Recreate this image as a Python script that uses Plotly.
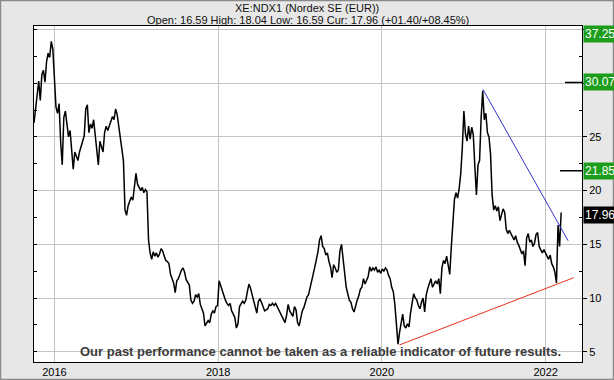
import pandas as pd
import plotly.graph_objects as go

# ---- data (weekly closes) ----
start_date = "2015-10-02"
prices = [
    26.3, 27.8, 28.6, 30.2, 28.4, 30.8, 31.2, 30.1, 32.0, 32.8,
    32.4, 33.9, 33.2, 30.0, 27.8, 27.2, 28.1, 24.5, 22.4, 26.8,
    27.4, 26.2, 25.0, 25.6, 23.4, 22.0, 23.6, 23.2, 22.8, 23.6,
    24.2, 24.6, 25.1, 27.6, 28.0, 25.4, 26.2, 25.8, 26.6, 25.2,
    24.0, 22.4, 24.6, 24.2, 23.6, 25.4, 26.0, 25.6, 26.1, 26.5,
    26.9, 26.6, 27.6, 27.1, 25.9, 25.2, 23.8, 22.8, 18.2, 17.7,
    18.6, 19.0, 19.4, 19.1, 20.4, 21.6, 20.6, 20.2, 20.0, 20.3,
    19.8, 20.1, 19.9, 15.4, 14.2, 13.6, 14.3, 13.9, 14.2, 13.8,
    14.1, 14.6, 14.4, 13.9, 13.5, 13.4, 13.2, 12.2, 11.8, 11.4,
    10.5, 11.6, 11.8, 12.3, 12.6, 12.8, 12.4, 11.7, 11.4, 11.2,
    9.8, 9.5, 9.7, 10.3, 10.1, 10.4, 9.4, 9.0, 8.6, 7.4,
    7.6, 7.9, 7.7, 8.5, 8.8, 8.6, 9.2, 9.3, 11.6, 11.1,
    10.8, 10.2, 9.8, 9.5, 9.3, 9.5, 8.8, 8.5, 8.2, 7.2,
    7.6, 9.2, 9.4, 9.7, 9.5, 9.8, 10.6, 11.3, 10.9, 10.3,
    9.9, 9.3, 8.6, 9.7, 9.9, 9.6, 9.1, 8.8, 8.9, 9.0,
    9.4, 9.3, 9.5, 9.3, 9.5, 9.2, 8.8, 8.5, 8.3, 8.0,
    7.7, 8.4, 9.4, 8.8, 8.6, 8.3, 9.2, 8.9, 7.7, 7.4,
    8.1, 8.8, 9.1, 9.6, 10.1, 10.3, 10.9, 11.6, 12.2, 12.9,
    13.6, 14.3, 15.4, 15.8, 14.8, 14.6, 14.0, 14.2, 13.4, 12.9,
    11.9, 13.1, 12.8, 12.4, 12.6, 14.4, 15.0, 13.8, 12.6, 11.0,
    10.4, 9.8, 9.6, 9.0, 8.7, 9.4, 9.8, 10.2, 10.8, 11.0,
    11.8, 11.3, 11.7, 12.0, 12.9, 12.5, 12.8, 12.6, 12.9, 12.4,
    12.6, 12.3, 12.7, 12.5, 12.8, 12.6, 12.1, 11.8, 11.0, 10.6,
    9.4, 7.6, 5.7, 6.8, 7.8, 8.5, 7.4, 7.2, 7.6, 7.3,
    8.6, 9.4, 10.4, 10.0, 9.8, 9.3, 9.0, 9.6, 10.0, 8.7,
    10.3, 10.9, 11.3, 11.8, 11.0, 11.4, 11.6, 11.3, 11.8, 10.4,
    12.8, 13.5, 13.2, 13.9, 12.8, 12.2, 14.8, 17.4, 19.2, 19.8,
    19.3, 20.2, 21.6, 24.0, 27.4, 25.3, 24.6, 26.0, 24.8, 25.9,
    25.2, 22.2, 19.6, 22.4, 22.8, 26.8, 29.3, 26.6, 27.2, 25.4,
    25.0, 23.4, 19.6, 18.2, 18.6, 18.1, 18.5, 17.2, 17.9, 18.3,
    18.0, 16.4, 16.0, 16.3, 16.0, 15.7, 15.4, 15.8, 15.2, 14.9,
    14.5, 14.1, 14.4, 13.0, 15.6, 16.0, 15.2, 15.4, 14.8, 15.1,
    15.9, 16.1, 14.8, 14.4, 14.2, 14.5, 14.1, 13.9, 13.6, 14.0,
    13.2, 12.9, 12.4, 11.4, 16.8, 14.8, 17.96,
]
dates = pd.date_range(start_date, periods=len(prices), freq="7D")

down_trend_x = ["2021-03-27", "2022-04-11"]
down_trend_y = [29.43, 15.33]
up_trend_x = ["2020-03-19", "2022-05-06"]
up_trend_y = [5.62, 11.89]

year_ticks = ["2016-01-01", "2018-01-01", "2020-01-01", "2022-01-01"]
year_labels = ["2016", "2018", "2020", "2022"]
y_ticks = [5, 10, 15, 20, 25, 30, 35]
y_labels = ["5", "10", "15", "20", "25", "", ""]

title1 = "XE:NDX1 (Nordex SE (EUR))"
title2 = "Open: 16.59 High: 18.04 Low: 16.59 Cur: 17.96 (+01.40/+08.45%)"
disclaimer = "Our past performance cannot be taken as a reliable indicator of future results."

target_labels = ["37.25", "30.07", "21.85"]
target_values = [34.6, 30.07, 21.85]
cur_label = "17.96"
cur_value = 17.96

Y_RANGE = [4.04, 35.33]
X_RANGE = ["2015-10-02", "2022-06-12"]

fig = go.Figure()
fig.add_trace(go.Scatter(x=dates, y=prices, mode="lines",
                         line=dict(color="black", width=1.5), hoverinfo="skip"))
fig.add_trace(go.Scatter(x=down_trend_x, y=down_trend_y, mode="lines",
                         line=dict(color="#3434c8", width=1)))
fig.add_trace(go.Scatter(x=up_trend_x, y=up_trend_y, mode="lines", yaxis="y2",
                         line=dict(color="#e8321e", width=1)))

fig.update_layout(
    width=614, height=380,
    margin=dict(l=34, r=32, t=26, b=18),
    paper_bgcolor="#e7e7e7", plot_bgcolor="white",
    showlegend=False,
    font=dict(family="Liberation Sans, Arial, sans-serif", size=11, color="black"),
    xaxis=dict(range=X_RANGE, type="date", tickvals=year_ticks, ticktext=year_labels,
               showgrid=True, gridcolor="#c4c4c4", gridwidth=1, ticks="",
               showline=True, linecolor="black", linewidth=1, mirror=True,
               zeroline=False, tickfont=dict(size=11), automargin=False),
    yaxis=dict(range=Y_RANGE, side="right", tickvals=y_ticks, ticktext=y_labels,
               showgrid=True, gridcolor="#c4c4c4", gridwidth=1,
               ticks="outside", ticklen=4, tickcolor="black",
               minor=dict(tickvals=[7.5, 12.5, 17.5, 22.5, 27.5, 32.5],
                          ticks="inside", ticklen=3, tickcolor="black", showgrid=False),
               showline=True, linecolor="black", linewidth=1, mirror=True,
               zeroline=False, tickfont=dict(size=11), automargin=False),
    yaxis2=dict(range=Y_RANGE, overlaying="y", side="left",
                tickvals=[5, 7.5, 10, 12.5, 15, 17.5, 20, 22.5, 25, 27.5, 30, 32.5, 35],
                ticks="inside", ticklen=3, tickcolor="black", automargin=False,
                showticklabels=False, showgrid=False, zeroline=False, showline=False),
)

def px_to_paper_x(px):
    return (px - 34) / 548.0

def px_to_paper_y(py):
    return (362 - py) / 336.0

annotations = [
    dict(text=title1, x=px_to_paper_x(307), y=px_to_paper_y(8), xref="paper", yref="paper",
         showarrow=False, font=dict(size=11, color="#111"), xanchor="center", yanchor="middle"),
    dict(text=title2, x=px_to_paper_x(308), y=px_to_paper_y(20), xref="paper", yref="paper",
         showarrow=False, font=dict(size=11, color="#111"), xanchor="center", yanchor="middle"),
    dict(text="<b>" + disclaimer + "</b>", x=px_to_paper_x(320), y=5.0, xref="paper", yref="y",
         showarrow=False, font=dict(family="Liberation Sans, Arial, sans-serif",
                                    size=13, color="#3c3c3c"),
         xanchor="center", yanchor="middle"),
]
for lab, val in zip(target_labels, target_values):
    annotations.append(dict(text=lab, x=px_to_paper_x(583), y=val, xref="paper", yref="y",
                            showarrow=False, xanchor="left", yanchor="middle",
                            bgcolor="#1c9e1c", borderpad=1,
                            font=dict(size=12, color="white")))
annotations.append(dict(text=cur_label, x=px_to_paper_x(583), y=cur_value - 0.2, xref="paper", yref="y",
                        showarrow=False, xanchor="left", yanchor="middle",
                        bgcolor="black", borderpad=1,
                        font=dict(size=12, color="white")))
fig.update_layout(annotations=annotations)

shapes = [
    dict(type="line", xref="paper", yref="y", x0=px_to_paper_x(565), x1=1.0,
         y0=target_values[1], y1=target_values[1], line=dict(color="black", width=1.5)),
    dict(type="line", xref="paper", yref="y", x0=px_to_paper_x(560), x1=1.0,
         y0=target_values[2], y1=target_values[2], line=dict(color="black", width=1.5)),
    dict(type="rect", xref="paper", yref="paper",
         x0=px_to_paper_x(0.5), x1=px_to_paper_x(613.5),
         y0=px_to_paper_y(379.5), y1=px_to_paper_y(0.5),
         line=dict(color="#8a8a8a", width=1.5), layer="below"),
]
fig.update_layout(shapes=shapes)

fig.write_html("out.html")
